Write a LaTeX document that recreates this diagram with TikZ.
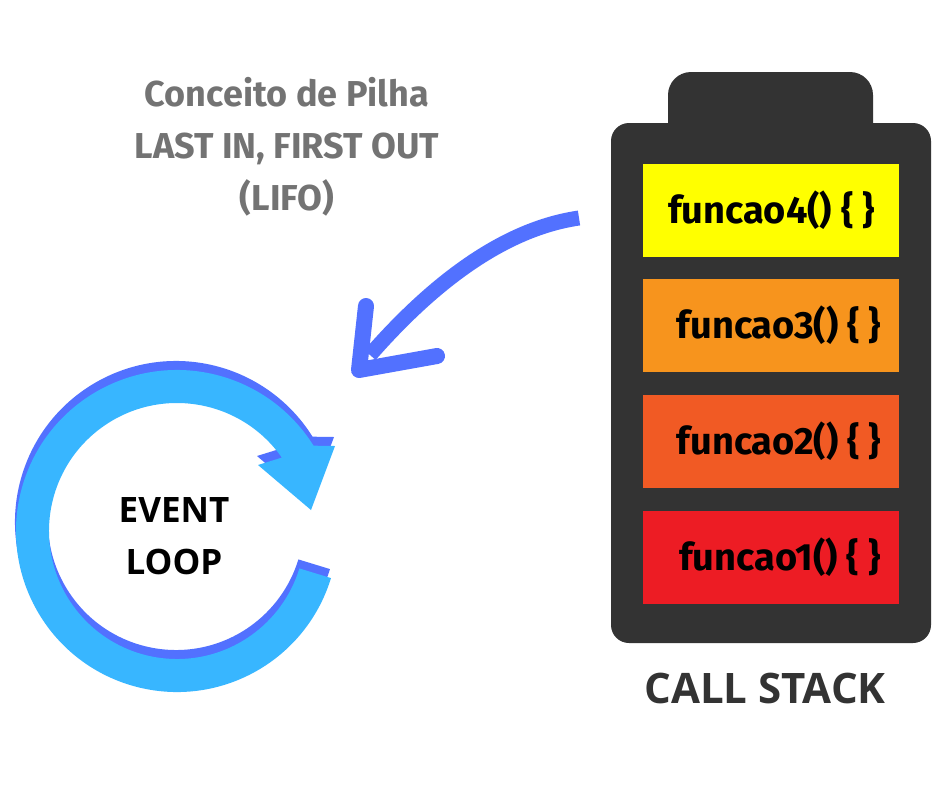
\documentclass[tikz,border=0pt]{standalone}
\usepackage{fontspec}
\newfontfamily\fira{Fira Sans}
\newfontfamily\opensans{Open Sans}
\usetikzlibrary{calc}
\definecolor{stackbg}{HTML}{333333}
\definecolor{fyellow}{HTML}{FFFF00}
\definecolor{forange}{HTML}{F7941D}
\definecolor{fredorange}{HTML}{F15A24}
\definecolor{fred}{HTML}{ED1C24}
\definecolor{lightblue}{HTML}{38B6FF}
\definecolor{darkblue}{HTML}{5271FF}
\definecolor{titlegrey}{HTML}{737373}
\begin{document}
\begin{tikzpicture}[x=1pt,y=1pt,
  funcbox/.style={fill=#1,draw=none,minimum width=256pt,minimum height=93pt,inner sep=0pt,
     font=\fira\bfseries\fontsize{38}{38}\selectfont,text=black},
  ring/.pic={
    \fill[pic actions] (-17:161) arc[start angle=-17,end angle=-328,radius=161]
      -- (158,85) -- (134,21) -- (81,66) -- (35:128)
      arc[start angle=35,end angle=343,radius=128] -- cycle;
  },
  bluearrow/.style={draw=darkblue,line cap=round,line join=round}
]
\useasboundingbox (0,0) rectangle (940,-788);
\fill[white] (0,0) rectangle (940,-788);

% call stack container
\fill[stackbg,rounded corners=23pt] (668,-72) rectangle (873,-160);
\fill[stackbg,rounded corners=18pt] (611,-123) rectangle (931,-643);
\node[funcbox=fyellow] (f4) at (771,-210.5) {\hspace*{1pt}funcao4() \{ \}};
\node[funcbox=forange] (f3) at (771,-325.5) {\hspace*{16pt}funcao3() \{ \}};
\node[funcbox=fredorange] (f2) at (771,-441) {\hspace*{16pt}funcao2() \{ \}};
\node[funcbox=fred] (f1) at (771,-557) {\hspace*{18pt}funcao1() \{ \}};
\node[font=\opensans\bfseries\fontsize{42}{42}\selectfont,text=stackbg] (cs) at (765,-688) {CALL STACK};

% title
\node[font=\fira\bfseries\fontsize{36}{52}\selectfont,text=titlegrey,align=center] (title) at (287,-147)
  {Conceito de Pilha\\LAST IN, FIRST OUT\\(LIFO)};

% event loop ring
\coordinate (C) at (177,-531);
\pic[fill=darkblue] at (176,-522) {ring};
\pic[fill=lightblue] at (C) {ring};
\node[font=\opensans\bfseries\fontsize{35}{52}\selectfont,align=center] (el) at (174,-536) {EVENT\\LOOP};

% blue arrow from stack to event loop
\coordinate (tail) at (579,-218);
\coordinate (tip) at (359,-370);
\coordinate (armA) at (366,-306);
\coordinate (armB) at (437,-356);
\draw[bluearrow,line width=15pt,line cap=butt] (tail) .. controls (510,-228) and (440,-275) .. (370,-355);
\draw[bluearrow,line width=16pt] (armA) -- (tip) -- (armB);
\end{tikzpicture}
\end{document}
